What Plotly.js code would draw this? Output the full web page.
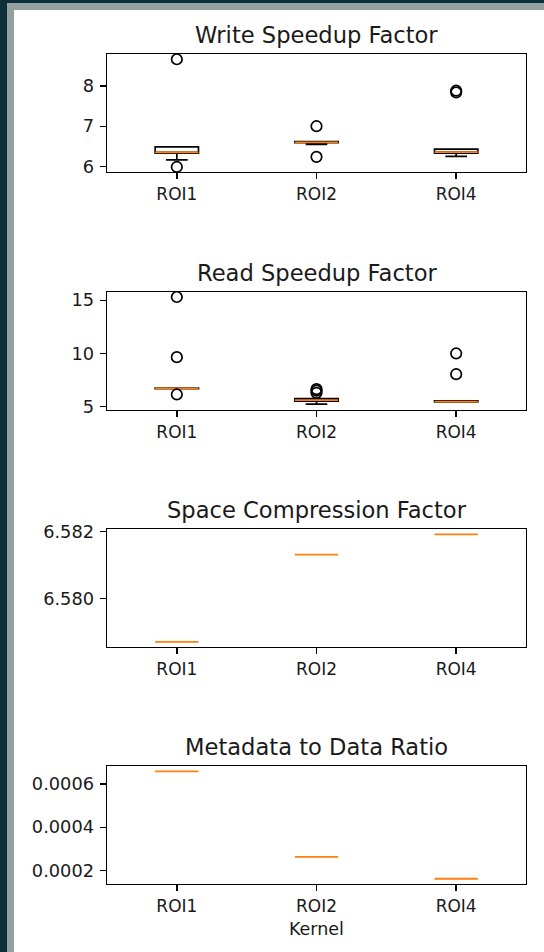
<!DOCTYPE html>
<html>
<head>
<meta charset="utf-8">
<script src="https://cdn.plot.ly/plotly-3.0.1.min.js"></script>
<style>
  html, body { margin:0; padding:0; }
  body { width:544px; height:952px; overflow:hidden; background:#0c2f3a; position:relative; }
  #frame { position:absolute; left:7px; top:3px; width:537px; height:949px; background:#93a09e; }
  #chart { position:absolute; left:14px; top:10px; width:530px; height:942px; background:#ffffff; }
</style>
</head>
<body>
<div id="frame"></div>
<div id="chart"></div>
<script>
// ---- data ----
const kernels = ["ROI1", "ROI2", "ROI4"];
const panelTitles = ["Write Speedup Factor", "Read Speedup Factor", "Space Compression Factor", "Metadata to Data Ratio"];

// Write Speedup Factor
const writeQ1     = [6.33, 6.59, 6.335];
const writeMedian = [6.35, 6.60, 6.36];
const writeQ3     = [6.49, 6.62, 6.43];
const writeLower  = [6.165, 6.55, 6.25];
const writeUpper  = [6.49, 6.62, 6.43];
const writeOutlierKernel = ["ROI1", "ROI1", "ROI2", "ROI2", "ROI4", "ROI4"];
const writeOutlierValue  = [8.66, 5.99, 7.00, 6.24, 7.84, 7.88];

// Read Speedup Factor
const readQ1     = [6.70, 5.52, 5.45];
const readMedian = [6.72, 5.62, 5.47];
const readQ3     = [6.75, 5.76, 5.55];
const readLower  = [6.70, 5.25, 5.45];
const readUpper  = [6.75, 5.76, 5.55];
const readOutlierKernel = ["ROI1", "ROI1", "ROI1", "ROI2", "ROI2", "ROI2", "ROI4", "ROI4"];
const readOutlierValue  = [15.3, 9.65, 6.15, 6.30, 6.50, 6.65, 10.0, 8.05];

// Space Compression Factor (single value per kernel)
const spaceValue = [6.57871, 6.58131, 6.58191];

// Metadata to Data Ratio (single value per kernel)
const metaValue = [0.0006586, 0.0002632, 0.0001617];

// tick labels
const writeTicks = [6, 7, 8];
const writeTickText = ["6", "7", "8"];
const readTicks = [5, 10, 15];
const readTickText = ["5", "10", "15"];
const spaceTicks = [6.580, 6.582];
const spaceTickText = ["6.580", "6.582"];
const metaTicks = [0.0002, 0.0004, 0.0006];
const metaTickText = ["0.0002", "0.0004", "0.0006"];

// ---- styling ----
const FONT = "DejaVu Sans, sans-serif";
const BLACK = "#000000";
const ORANGE = "#ff7f0e";
const TEXT = "#1a1a1a";
const BOXW = 0.31;

function boxTrace(ax, q1, med, q3, lo, hi, color, lw) {
  return {
    type: "box", xaxis: "x" + ax, yaxis: "y" + ax,
    x: kernels, q1: q1, median: med, q3: q3, lowerfence: lo, upperfence: hi,
    width: BOXW, whiskerwidth: 0.5,
    line: { color: color, width: lw },
    fillcolor: "rgba(0,0,0,0)",
    hoverinfo: "skip", showlegend: false
  };
}
function outlierTrace(ax, xs, ys) {
  return {
    type: "scatter", mode: "markers", xaxis: "x" + ax, yaxis: "y" + ax,
    x: xs, y: ys,
    marker: { symbol: "circle-open", size: 10.5, color: BLACK, line: { color: BLACK, width: 1.7 } },
    hoverinfo: "skip", showlegend: false, cliponaxis: false
  };
}

const traces = [
  boxTrace("", writeQ1, writeMedian, writeQ3, writeLower, writeUpper, BLACK, 1.7),
  boxTrace("", writeMedian, writeMedian, writeMedian, writeMedian, writeMedian, ORANGE, 1.8),
  outlierTrace("", writeOutlierKernel, writeOutlierValue),

  boxTrace("2", readQ1, readMedian, readQ3, readLower, readUpper, BLACK, 1.7),
  boxTrace("2", readMedian, readMedian, readMedian, readMedian, readMedian, ORANGE, 1.8),
  outlierTrace("2", readOutlierKernel, readOutlierValue),

  boxTrace("3", spaceValue, spaceValue, spaceValue, spaceValue, spaceValue, ORANGE, 1.8),
  boxTrace("4", metaValue, metaValue, metaValue, metaValue, metaValue, ORANGE, 1.8)
];

const W = 530, H = 942, OX = 14, OY = 10;
const xDom = [(107 - OX) / W, (526 - OX) / W];
function yDom(top, bottom) { return [1 - (bottom - OY) / H, 1 - (top - OY) / H]; }
const doms = [yDom(54, 172), yDom(292, 410), yDom(529, 647), yDom(766, 884)];
const yRanges = [[5.865, 8.79], [4.69, 15.77], [6.57856, 6.58207], [0.0001375, 0.000683]];
const yTicks = [[writeTicks, writeTickText], [readTicks, readTickText], [spaceTicks, spaceTickText], [metaTicks, metaTickText]];

const xTickFont = { family: FONT, size: 17, color: TEXT };
const yTickFont = { family: FONT, size: 17.8, color: TEXT };
const layout = {
  width: W, height: H,
  margin: { l: 0, r: 0, t: 0, b: 0 },
  paper_bgcolor: "#ffffff", plot_bgcolor: "#ffffff",
  boxmode: "overlay",
  showlegend: false,
  annotations: []
};
for (let i = 0; i < 4; i++) {
  const s = i === 0 ? "" : String(i + 1);
  layout["xaxis" + s] = {
    domain: xDom, anchor: "y" + s,
    type: "category", categoryorder: "array", categoryarray: kernels,
    range: [-0.5, 2.5], fixedrange: true,
    showgrid: false, zeroline: false,
    showline: true, linecolor: BLACK, linewidth: 1.4, mirror: true,
    ticks: "outside", ticklen: 6, tickwidth: 1.4, tickcolor: BLACK,
    tickfont: xTickFont
  };
  if (i === 3) {
    layout["xaxis" + s].title = { text: "Kernel", font: { family: FONT, size: 17.5, color: TEXT }, standoff: 8 };
  }
  layout["yaxis" + s] = {
    domain: doms[i], anchor: "x" + s,
    range: yRanges[i], fixedrange: true,
    showgrid: false, zeroline: false,
    showline: true, linecolor: BLACK, linewidth: 1.4, mirror: true,
    ticks: "outside", ticklen: 6, tickwidth: 1.4, tickcolor: BLACK,
    tickmode: "array", tickvals: yTicks[i][0], ticktext: yTicks[i][1],
    ticklabelstandoff: 2,
    tickfont: yTickFont
  };
  layout.annotations.push({
    text: panelTitles[i], xref: "paper", yref: "paper",
    x: (xDom[0] + xDom[1]) / 2, y: doms[i][1],
    xanchor: "center", yanchor: "bottom", yshift: 4,
    showarrow: false,
    font: { family: FONT, size: 22.6, color: TEXT }
  });
}

Plotly.newPlot("chart", traces, layout, { staticPlot: true, displayModeBar: false });
</script>
</body>
</html>
